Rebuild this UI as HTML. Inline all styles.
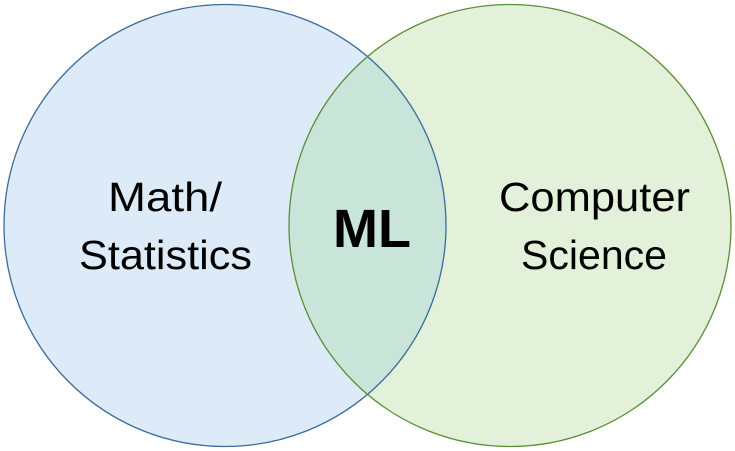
<!DOCTYPE html>
<html><head><style>html,body{margin:0;padding:0;background:#fff}svg{display:block}</style></head>
<body>
<svg width="735" height="451" viewBox="0 0 735 451" xmlns="http://www.w3.org/2000/svg">
<defs><clipPath id="c"><circle cx="225" cy="225.5" r="221"/></clipPath></defs>
<circle cx="225" cy="225.5" r="221" fill="#ddebf8"/>
<circle cx="510" cy="225.5" r="221" fill="#e3f0da"/>
<circle cx="510" cy="225.5" r="221" fill="#c9e4d9" clip-path="url(#c)"/>
<circle cx="225" cy="225.5" r="221" fill="none" stroke="#3a6b9a" stroke-width="1.3"/>
<circle cx="510" cy="225.5" r="221" fill="none" stroke="#5a8f34" stroke-width="1.3"/>
<g font-family="Liberation Sans, sans-serif" fill="#000" text-anchor="middle">
<text x="165" y="211" font-size="41" textLength="114" lengthAdjust="spacingAndGlyphs">Math/</text>
<text x="165.5" y="269" font-size="41" textLength="173" lengthAdjust="spacingAndGlyphs">Statistics</text>
<text x="594.5" y="211" font-size="41" textLength="191" lengthAdjust="spacingAndGlyphs">Computer</text>
<text x="594" y="269" font-size="41" textLength="146" lengthAdjust="spacingAndGlyphs">Science</text>
<text x="372" y="247" font-size="54" font-weight="bold">ML</text>
</g>
</svg>
</body></html>
